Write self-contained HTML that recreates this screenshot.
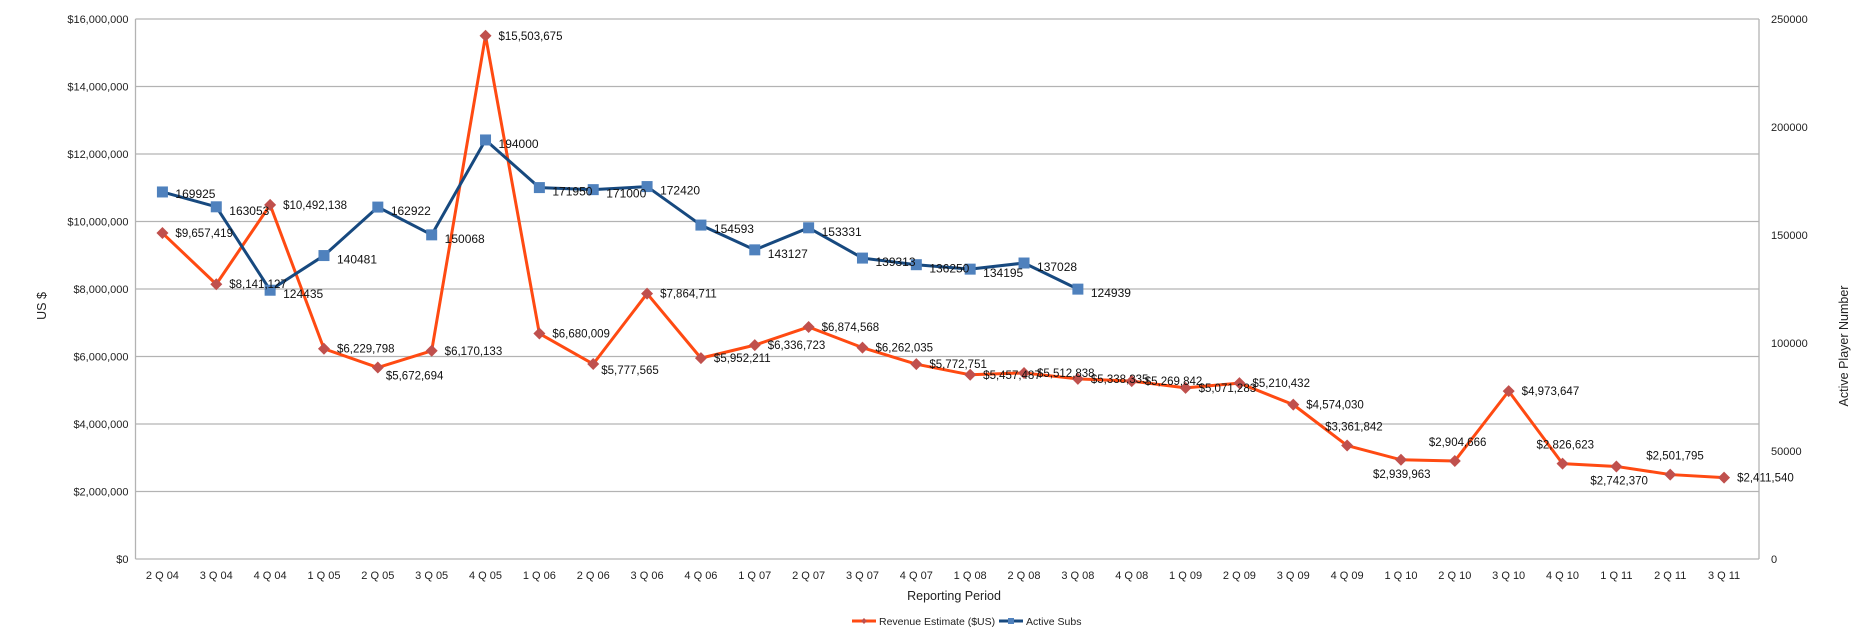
<!DOCTYPE html>
<html><head><meta charset="utf-8"><style>
html,body{margin:0;padding:0;background:#fff;}
svg{display:block;font-family:"Liberation Sans",sans-serif;}
</style></head><body>
<svg id="c" width="1870" height="632" xmlns="http://www.w3.org/2000/svg"></svg>
<script>
const S=document.getElementById('c');
const ns='http://www.w3.org/2000/svg';
function el(t,a,txt){const e=document.createElementNS(ns,t);for(const k in a)e.setAttribute(k,a[k]);if(txt!==undefined)e.textContent=txt;S.appendChild(e);return e;}
const x0=135.5,x1=1759,yT=19,yB=559,H=yB-yT;
const cats=["2 Q 04","3 Q 04","4 Q 04","1 Q 05","2 Q 05","3 Q 05","4 Q 05","1 Q 06","2 Q 06","3 Q 06","4 Q 06","1 Q 07","2 Q 07","3 Q 07","4 Q 07","1 Q 08","2 Q 08","3 Q 08","4 Q 08","1 Q 09","2 Q 09","3 Q 09","4 Q 09","1 Q 10","2 Q 10","3 Q 10","4 Q 10","1 Q 11","2 Q 11","3 Q 11"];
const step=(x1-x0-8)/cats.length;
const cx=i=>x0+step*(i+0.5);
const ry=v=>yB-v/16e6*H, sy=v=>yB-v/250000*H;
for(let k=0;k<=8;k++){const y=yB-k*H/8;el('line',{x1:x0,x2:x1,y1:y,y2:y,stroke:'#b3b3b3','stroke-width':1.3});
 el('text',{x:x0-7,y:y+4,'text-anchor':'end','font-size':11,fill:'#222'},k==0?'$0':'$'+(k*2).toLocaleString('en-US')+',000,000');}
el('line',{x1:x0,x2:x0,y1:yT,y2:yB,stroke:'#b3b3b3','stroke-width':1.3});
el('line',{x1:x1,x2:x1,y1:yT,y2:yB,stroke:'#b3b3b3','stroke-width':1.3});
for(let k=0;k<=5;k++){const y=yB-k*H/5;el('text',{x:x1+12,y:y+4,'font-size':11,fill:'#222'},String(k*50000));}
cats.forEach((c,i)=>el('text',{x:cx(i),y:579,'text-anchor':'middle','font-size':11,fill:'#222'},c));
el('text',{x:954,y:600,'text-anchor':'middle','font-size':12.5,fill:'#222'},'Reporting Period');
el('text',{x:0,y:0,'text-anchor':'middle','font-size':12.5,fill:'#222',transform:'translate(46,306) rotate(-90)'},'US $');
el('text',{x:0,y:0,'text-anchor':'middle','font-size':12.5,fill:'#222',transform:'translate(1848,346) rotate(-90)'},'Active Player Number');
const rev=[9657419,8141127,10492138,6229798,5672694,6170133,15503675,6680009,5777565,7864711,5952211,6336723,6874568,6262035,5772751,5457487,5512838,5338335,5269842,5071283,5210432,4574030,3361842,2939963,2904666,4973647,2826623,2742370,2501795,2411540];
const subs=[169925,163053,124435,140481,162922,150068,194000,171950,171000,172420,154593,143127,153331,139313,136250,134195,137028,124939];
const RC='#ff4a12',RM='#c0504d',BC='#17497f',BM='#4f81bd';
el('polyline',{points:rev.map((v,i)=>cx(i)+','+ry(v)).join(' '),fill:'none',stroke:RC,'stroke-width':3,'stroke-linejoin':'round'});
el('polyline',{points:subs.map((v,i)=>cx(i)+','+sy(v)).join(' '),fill:'none',stroke:BC,'stroke-width':3,'stroke-linejoin':'round'});
rev.forEach((v,i)=>{const x=cx(i),y=ry(v);el('polygon',{points:`${x},${y-6} ${x+6},${y} ${x},${y+6} ${x-6},${y}`,fill:RM});});
subs.forEach((v,i)=>{const x=cx(i),y=sy(v);el('rect',{x:x-5.5,y:y-5.5,width:11,height:11,fill:BM});});
const off={4:[8,12],8:[8,10],22:[-22,-15],23:[-28,18],24:[-26,-15],26:[-26,-15],27:[-26,18],28:[-24,-15]};
rev.forEach((v,i)=>{const o=off[i]||[13,4];el('text',{x:cx(i)+o[0],y:ry(v)+o[1],'font-size':11.5,fill:'#111'},'$'+v.toLocaleString('en-US'));});
subs.forEach((v,i)=>{el('text',{x:cx(i)+13,y:sy(v)+(i==0?6:8),'font-size':12,fill:'#111'},String(v));});
el('line',{x1:852,x2:876,y1:621,y2:621,stroke:RC,'stroke-width':3});
el('polygon',{points:'864,618 867,621 864,624 861,621',fill:RM});
el('text',{x:879,y:625,'font-size':10.5,fill:'#222'},'Revenue Estimate ($US)');
el('line',{x1:999,x2:1023,y1:621,y2:621,stroke:BC,'stroke-width':3});
el('rect',{x:1008,y:618,width:6,height:6,fill:BM});
el('text',{x:1026,y:625,'font-size':10.5,fill:'#222'},'Active Subs');
</script>
</body></html>
